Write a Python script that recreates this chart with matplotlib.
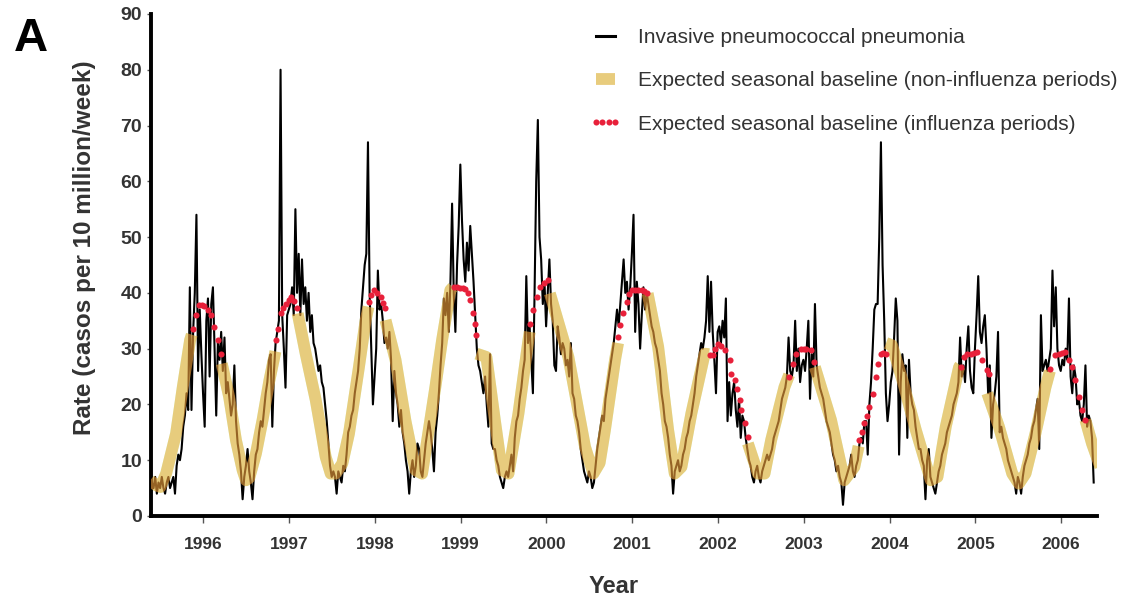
import numpy as np
import matplotlib
matplotlib.use('Agg')
import matplotlib.pyplot as plt
from matplotlib.lines import Line2D

plt.rcParams['font.family'] = ['Liberation Sans', 'DejaVu Sans']

# weekly IPP rate (cases per 10 million/week), one season per list,
# each season starts late May (year + 0.40)
ipp_1995 = [6, 5, 7, 4, 6, 5, 7, 5, 4, 6, 7, 5, 6, 7, 4, 9, 11, 10, 12, 16, 18, 22, 19, 41, 19, 33,
            40, 54, 26, 37, 29, 22, 16, 35, 39, 25, 38, 41, 30, 18, 31, 28, 33, 26, 32, 22, 24, 21, 18, 20, 27, 17]
ipp_1996 = [13, 11, 8, 3, 7, 9, 12, 8, 6, 3, 8, 11, 12, 15, 17, 16, 19, 22, 24, 28, 29, 16, 26, 31, 33, 35,
            80, 36, 30, 23, 36, 37, 38, 41, 36, 55, 40, 47, 36, 46, 38, 41, 35, 40, 33, 36, 31, 30, 28, 26, 27, 24]
ipp_1997 = [23, 20, 17, 13, 9, 7, 8, 7, 4, 8, 7, 6, 9, 8, 11, 15, 16, 18, 19, 22, 24, 26, 30, 37, 41, 45,
            47, 67, 40, 30, 20, 25, 30, 44, 37, 38, 35, 31, 32, 30, 33, 28, 17, 26, 22, 20, 16, 19, 15, 13, 10, 8]
ipp_1998 = [4, 8, 10, 7, 9, 13, 12, 8, 7, 10, 13, 15, 17, 15, 12, 8, 15, 18, 22, 27, 31, 39, 36, 40, 33, 42,
            56, 40, 33, 45, 52, 63, 53, 46, 42, 49, 44, 52, 47, 42, 36, 30, 27, 26, 24, 22, 25, 20, 16, 29, 13, 12]
ipp_1999 = [12, 10, 9, 7, 6, 5, 7, 8, 7, 9, 11, 8, 14, 17, 18, 21, 23, 26, 28, 43, 31, 34, 28, 22, 40, 60,
            71, 50, 46, 38, 42, 34, 40, 46, 38, 35, 27, 26, 34, 32, 29, 31, 30, 27, 28, 25, 31, 22, 21, 18, 17, 15]
ipp_2000 = [12, 10, 8, 7, 6, 8, 7, 5, 6, 9, 12, 14, 16, 18, 17, 21, 23, 25, 27, 29, 31, 34, 37, 34, 38, 42,
            46, 40, 42, 37, 41, 47, 54, 33, 42, 38, 30, 36, 41, 37, 40, 38, 36, 34, 33, 31, 30, 28, 26, 22, 20, 17]
ipp_2001 = [16, 14, 11, 9, 4, 8, 9, 10, 8, 9, 11, 12, 14, 15, 17, 18, 20, 22, 25, 27, 29, 31, 30, 32, 35, 43,
            33, 42, 33, 28, 22, 33, 34, 31, 35, 32, 39, 17, 24, 18, 22, 24, 19, 16, 21, 14, 18, 17, 14, 12, 10, 9]
ipp_2002 = [7, 6, 8, 9, 7, 6, 8, 9, 10, 11, 10, 11, 12, 14, 15, 16, 17, 19, 21, 22, 23, 25, 32, 26, 25, 27,
            35, 26, 30, 24, 27, 28, 26, 30, 35, 21, 29, 25, 38, 27, 25, 23, 22, 21, 19, 17, 16, 15, 13, 11, 10, 8]
ipp_2003 = [9, 7, 6, 2, 6, 7, 8, 9, 11, 8, 7, 9, 10, 13, 14, 13, 17, 17, 11, 20, 24, 30, 37, 38, 38, 50,
            67, 45, 35, 22, 17, 20, 24, 26, 32, 39, 35, 11, 24, 29, 26, 27, 14, 28, 22, 20, 19, 16, 14, 12, 12, 10]
ipp_2004 = [9, 3, 10, 12, 7, 6, 5, 4, 6, 8, 9, 11, 12, 13, 15, 16, 17, 18, 20, 21, 22, 24, 32, 25, 27, 24,
            30, 34, 26, 23, 22, 30, 36, 43, 33, 31, 34, 36, 30, 22, 27, 14, 20, 22, 25, 33, 15, 16, 14, 13, 12, 10]
ipp_2005 = [9, 8, 7, 6, 4, 7, 6, 4, 7, 9, 10, 11, 13, 14, 16, 17, 19, 21, 12, 36, 26, 27, 28, 26, 28, 30,
            44, 34, 41, 30, 27, 26, 28, 27, 30, 28, 39, 25, 22, 27, 25, 20, 21, 18, 17, 20, 27, 16, 18, 17, 14, 6]

season_years = [1995, 1996, 1997, 1998, 1999, 2000, 2001, 2002, 2003, 2004, 2005]
ipp_seasons = [ipp_1995, ipp_1996, ipp_1997, ipp_1998, ipp_1999, ipp_2000,
               ipp_2001, ipp_2002, ipp_2003, ipp_2004, ipp_2005]

# expected seasonal baseline outside influenza periods (None = gap)
base_years = [
    1995.38, 1995.45, 1995.50, 1995.566, 1995.682, 1995.76, 1995.845, 1995.865, None,
    1996.215, 1996.30, 1996.38, 1996.458, 1996.497, 1996.535, 1996.613, 1996.69, 1996.77, 1996.84, None,
    1997.10, 1997.193, 1997.31, 1997.426, 1997.485, 1997.543, 1997.62, 1997.698, 1997.814, 1997.892, 1997.925, None,
    1998.124, 1998.24, 1998.357, 1998.473, 1998.55, 1998.628, 1998.705, 1998.783, 1998.88, 1998.91, None,
    1999.185, 1999.30, 1999.40, 1999.48, 1999.558, 1999.674, 1999.79, 1999.805, None,
    2000.04, 2000.256, 2000.45, 2000.547, 2000.62, 2000.682, 2000.80, 2000.835, None,
    2001.18, 2001.303, 2001.419, 2001.496, 2001.574, 2001.69, 2001.845, 2001.895, None,
    2002.349, 2002.465, 2002.543, 2002.62, 2002.775, 2002.83, None,
    2003.13, 2003.318, 2003.473, 2003.59, 2003.64, None,
    2003.96, 2004.03, 2004.152, 2004.307, 2004.481, 2004.559, 2004.656, 2004.811, 2004.825, None,
    2005.14, 2005.276, 2005.431, 2005.508, 2005.586, 2005.702, 2005.819, 2005.87, None,
    2006.284, 2006.361, 2006.458,
]
base_rates = [
    6.4, 5.5, 5.2, 7.6, 14.8, 23.1, 31.5, 32.5, None,
    27.3, 21.4, 13.6, 8.2, 6.4, 6.8, 11.2, 17.2, 24.3, 29.5, None,
    36.3, 29.1, 20.8, 10.6, 7.6, 7.6, 9.4, 14.8, 26.7, 35.1, 37.5, None,
    35.1, 28, 17, 8.2, 7.6, 15.4, 23.1, 31.5, 40.5, 41, None,
    29.1, 28.5, 17, 8.2, 7.6, 18.4, 31.5, 33, None,
    39.9, 28.5, 12.4, 7.6, 9.5, 15.4, 28, 31, None,
    39.9, 30.3, 15.4, 7.6, 8.8, 18.4, 29.1, 29, None,
    13, 7.6, 7.6, 13.6, 23.1, 25.3, None,
    26.7, 17.2, 6.4, 8.8, 12.5, None,
    31, 30.6, 24.3, 15.4, 6.4, 7, 16, 26.7, 27, None,
    22, 16, 7.6, 5.8, 7.6, 14.8, 23.1, 26, None,
    17.2, 13, 8.8,
]

# expected seasonal baseline during influenza periods
flu_years = [
    1995.876, 1995.915, 1995.954, 1995.985, 1996.012, 1996.05, 1996.09, 1996.128, 1996.167, 1996.206,
    1996.845, 1996.872, 1996.903, 1996.93, 1996.961, 1996.995, 1997.027, 1997.06, 1997.097,
    1997.93, 1997.96, 1997.988, 1998.03, 1998.066, 1998.09, 1998.112,
    1998.919, 1998.96, 1998.996, 1999.03, 1999.054, 1999.085, 1999.112, 1999.14, 1999.163, 1999.178,
    1999.81, 1999.849, 1999.888, 1999.926, 1999.975, 2000.023,
    2000.837, 2000.857, 2000.895, 2000.934, 2000.965, 2000.992, 2001.03, 2001.07, 2001.109, 2001.14, 2001.167,
    2001.903, 2001.942, 2001.97, 2002.0, 2002.04, 2002.078, 2002.136, 2002.155, 2002.194, 2002.22, 2002.252,
    2002.272, 2002.31, 2002.349,
    2002.834, 2002.872, 2002.911, 2002.969, 2003.0, 2003.027, 2003.086, 2003.124,
    2003.648, 2003.68, 2003.706, 2003.735, 2003.764, 2003.803, 2003.842, 2003.861, 2003.9, 2003.93, 2003.958,
    2004.83, 2004.869, 2004.905, 2004.946, 2004.985, 2005.024, 2005.082, 2005.14, 2005.16,
    2005.877, 2005.935, 2005.974, 2006.01, 2006.051, 2006.09, 2006.129, 2006.167, 2006.206, 2006.245, 2006.284,
]
flu_rates = [
    33.6, 36, 37.8, 37.8, 37.6, 37, 36, 33.9, 31.5, 29.1,
    31.5, 33.6, 36.3, 37.3, 38, 38.8, 39.3, 38.5, 37.2,
    38.4, 39.6, 40.5, 40, 39.3, 38.2, 37.2,
    41, 41, 40.9, 40.8, 40.7, 40, 38.7, 36.3, 34.5, 32.4,
    34.5, 36.9, 39.3, 41, 41.8, 42.3,
    32.1, 34.2, 36.3, 38.4, 39.8, 40.5, 40.5, 40.5, 40.5, 40.3, 40,
    28.8, 28.8, 30, 30.9, 30.5, 29.7, 27.9, 25.5, 24.3, 22.8, 20.8,
    19, 16.6, 14.2,
    25, 27.3, 29.1, 30, 30, 30, 29.7, 27.6,
    13.6, 15, 16.6, 18, 19.6, 21.9, 25, 27.3, 29.1, 29.2, 29.1,
    26.7, 28.5, 29, 29.1, 29.3, 29.4, 27.9, 26.1, 25.5,
    26.4, 28.8, 29.1, 29.3, 29.4, 28, 26.7, 24.3, 21.3, 19, 17.2,
]

year_ticks = list(range(1996, 2007))
rate_ticks = list(range(0, 91, 10))

legend_labels = ['Invasive pneumococcal pneumonia',
                 'Expected seasonal baseline (non-influenza periods)',
                 'Expected seasonal baseline (influenza periods)']

# weekly time axis for the observed series
ipp_t = np.concatenate([y + 0.40 + np.arange(len(v)) / 52.0 for y, v in zip(season_years, ipp_seasons)])
ipp_v = np.concatenate([np.array(v, dtype=float) for v in ipp_seasons])
base_t = np.array(base_years, dtype=float)
base_v = np.array(base_rates, dtype=float)

TAN = '#E8CC7D'
RED = '#E8203A'
BAND_W = 8.5

fig = plt.figure(figsize=(11.23, 6.02), dpi=100)
ax = fig.add_axes([0.1345, 0.1429, 0.8424, 0.8339])

# band drawn in two layers so the black line turns brown where it sits inside the band
ax.plot(base_t, base_v, color='#C8FFD4', lw=BAND_W, solid_capstyle='butt', zorder=1)
ax.plot(ipp_t, ipp_v, color='black', lw=1.5, zorder=2)
ax.plot(base_t, base_v, color='#FEA940', alpha=0.59, lw=BAND_W, solid_capstyle='butt', zorder=3)
ax.plot(flu_years, flu_rates, ls='none', marker='o', ms=4.4, mew=0, color=RED, zorder=4)

ax.set_xlim(1995.39, 2006.42)
ax.set_ylim(0, 90)
ax.set_xticks(year_ticks)
ax.set_xticklabels([str(y) for y in year_ticks])
ax.set_yticks(rate_ticks)

for side in ['top', 'right']:
    ax.spines[side].set_visible(False)
for side in ['left', 'bottom']:
    ax.spines[side].set_linewidth(2.8)
    ax.spines[side].set_color('black')

ax.tick_params(axis='x', direction='out', length=5, width=1, color='#555', pad=10,
               labelsize=12.5, labelcolor='#333')
ax.tick_params(axis='y', direction='out', length=3, width=1, color='#555', pad=3.5,
               labelsize=14, labelcolor='#333')
for lbl in ax.get_xticklabels() + ax.get_yticklabels():
    lbl.set_fontweight('bold')

ax.set_ylabel('Rate (casos per 10 million/week)', fontsize=17.5, fontweight='bold', color='#333')
ax.yaxis.set_label_coords(-0.058, 0.535)
ax.set_xlabel('Year', fontsize=17, fontweight='bold', color='#333')
ax.xaxis.set_label_coords(0.489, -0.118)

fig.text(0.012, 0.972, 'A', fontsize=34, fontweight='bold', va='top', ha='left')

handles = [Line2D([], [], color='black', lw=2.2),
           Line2D([], [], color=TAN, lw=BAND_W, solid_capstyle='butt'),
           Line2D([], [], ls='none', marker='o', ms=4.4, mew=0, color=RED)]
fig.legend(handles, legend_labels, loc='upper left', bbox_to_anchor=(0.525, 0.953),
           bbox_transform=fig.transFigure, frameon=False, fontsize=15, numpoints=4,
           handlelength=1.54, handletextpad=0.77, labelspacing=1.16,
           borderpad=0, borderaxespad=0, labelcolor='#333')

fig.savefig('out.png', dpi=100)
